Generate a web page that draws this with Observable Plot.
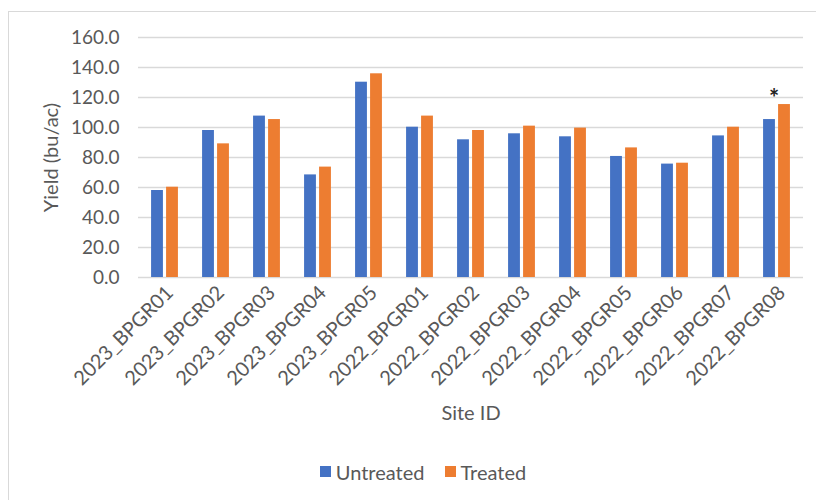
<!DOCTYPE html>
<html><head><meta charset="utf-8">
<script src="https://cdn.jsdelivr.net/npm/d3@7"></script>
<script src="https://cdn.jsdelivr.net/npm/@observablehq/plot@0.6"></script>
<style>
html,body{margin:0;padding:0;background:#fff;}
body{width:816px;height:500px;position:relative;overflow:hidden;font-family:Lato,sans-serif;}
#frame{position:absolute;left:8px;top:11px;width:830px;height:510px;border:1.5px solid #d9d9d9;box-sizing:border-box;}
#chart{position:absolute;left:0;top:0;}
#legend{position:absolute;left:0;top:455px;width:866px;display:flex;justify-content:center;}
.lg-swatch{margin-right:20px !important;}
.lg-swatch > svg{margin-right:5px !important;}
</style></head><body>
<div id="frame"></div>
<div id="chart"></div>
<div id="legend"></div>
<script>
const sites = ["2023_BPGR01","2023_BPGR02","2023_BPGR03","2023_BPGR04","2023_BPGR05",
  "2022_BPGR01","2022_BPGR02","2022_BPGR03","2022_BPGR04","2022_BPGR05","2022_BPGR06","2022_BPGR07","2022_BPGR08"];
const untreated = [58.0, 98.0, 107.6, 68.4, 130.2, 100.2, 91.8, 95.8, 93.8, 80.7, 75.6, 94.4, 105.3];
const treated   = [60.2, 89.1, 105.3, 73.6, 135.8, 107.6, 98.0, 100.9, 99.6, 86.4, 76.2, 100.2, 115.3];
const seriesNames = ["Untreated", "Treated"];
const seriesColors = ["#4472C4", "#ED7D31"];
const yTicks = [0, 20, 40, 60, 80, 100, 120, 140, 160];
const significantSites = ["2022_BPGR08"];
const yTitle = "Yield (bu/ac)";
const xTitle = "Site ID";

const rows = sites.map((s, i) => ({site: s, untreated: untreated[i], treated: treated[i]}));
const W = 816, H = 440, mL = 138, mR = 13, mT = 37, mB = 163;
const bw = (W - mL - mR) / sites.length;
const barW = 12, gap = 3;
const textColor = "#595959";

const plot = Plot.plot({
  width: W, height: H,
  marginLeft: mL, marginRight: mR, marginTop: mT, marginBottom: mB,
  style: {fontFamily: "Lato, sans-serif", fontSize: "18px", color: textColor, background: "transparent", overflow: "visible"},
  x: {domain: sites, padding: 0},
  y: {domain: [0, 160]},
  marks: [
    Plot.ruleY(yTicks, {stroke: "#d9d9d9", strokeWidth: 1.3}),
    Plot.barY(rows, {x: "site", y: "untreated", fill: seriesColors[0],
      insetLeft: bw / 2 - gap / 2 - barW, insetRight: bw / 2 + gap / 2}),
    Plot.barY(rows, {x: "site", y: "treated", fill: seriesColors[1],
      insetLeft: bw / 2 + gap / 2, insetRight: bw / 2 - gap / 2 - barW}),
    Plot.text(rows.filter(d => significantSites.includes(d.site)), {x: "site", y: "treated", text: () => "*",
      lineAnchor: "bottom", dy: 2, dx: -3, fontSize: 24, fontWeight: "bold", fill: "#222"}),
    Plot.axisY({ticks: yTicks, tickFormat: d3.format(".1f"), tickSize: 0, tickPadding: 19, label: null, fontSize: 19}),
    Plot.axisY({ticks: [], tickSize: 0, label: yTitle, labelArrow: "none", labelAnchor: "center", labelOffset: 95, fontSize: 20}),
    Plot.axisX({tickRotate: -45, tickSize: 0, tickPadding: 12, dx: 5, label: null, fontSize: 20}),
    Plot.axisX({ticks: [], tickSize: 0, label: xTitle, labelArrow: "none", labelAnchor: "center", labelOffset: 142, fontSize: 20})
  ]
});
document.getElementById("chart").appendChild(plot);

const legend = Plot.legend({
  color: {domain: seriesNames, range: seriesColors},
  legend: "swatches", swatchSize: 11, className: "lg",
  style: {fontFamily: "Lato, sans-serif", fontSize: "20px", color: textColor}
});
document.getElementById("legend").appendChild(legend);
</script>
</body></html>
